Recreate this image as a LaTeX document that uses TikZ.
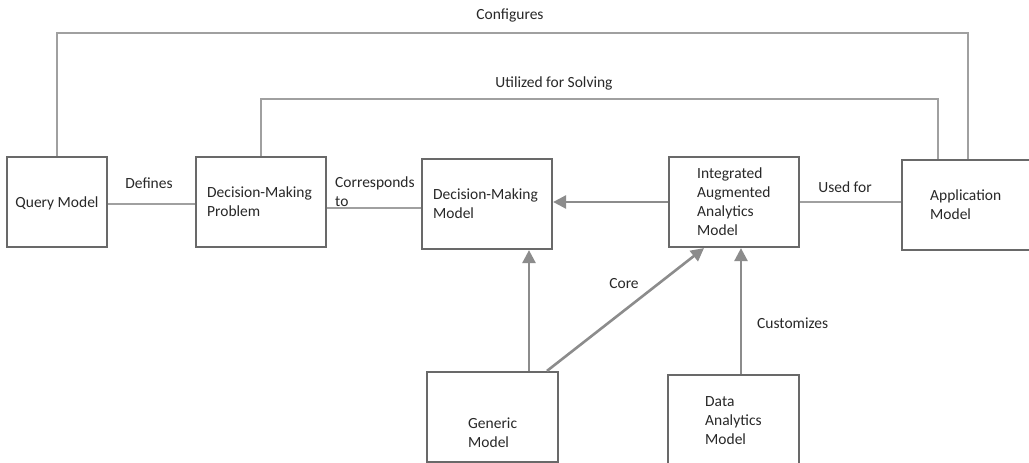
\documentclass[tikz,border=0pt]{standalone}
\usepackage{fontspec}
\setmainfont{Carlito}
\usetikzlibrary{arrows.meta}
\definecolor{boxline}{RGB}{105,105,105}
\definecolor{linkline}{RGB}{160,160,160}
\definecolor{arrline}{RGB}{140,140,140}
\definecolor{txt}{RGB}{40,40,40}
\begin{document}
\begin{tikzpicture}[x=1pt,y=-1pt,
  box/.style={draw=boxline,line width=2.2pt,fill=white,inner sep=0pt,minimum height=90pt},
  txtnode/.style={inner sep=0pt,align=left,text=txt,font=\fontsize{15.5}{19}\selectfont},
  lbl/.style={txtnode},
  link/.style={draw=linkline,line width=1.2pt},
  arr/.style={draw=arrline,line width=2.6pt,-{Triangle[length=13pt,width=13pt]}}]
  \useasboundingbox[fill=white] (0,0) rectangle (1029,463);

  % boxes
  \node[box,minimum width=100pt] (qm)  at (57,202) {};
  \node[box,minimum width=130pt] (dmp) at (261,202) {};
  \node[box,minimum width=130pt] (dmm) at (487,204) {};
  \node[box,minimum width=130pt] (iaa) at (734,202) {};
  \node[box,minimum width=128pt] (am)  at (966,205) {};
  \node[box,minimum width=131pt] (gm)  at (492.5,417) {};
  \node[box,minimum width=131pt] (dam) at (733.5,420) {};

  % box texts
  \node[txtnode] (tqm) at (57,203) {Query Model};
  \node[txtnode,anchor=west] (tdmp) at (207,202) {Decision-Making\\Problem};
  \node[txtnode,anchor=west] (tdmm) at (433,204) {Decision-Making\\Model};
  \node[txtnode,anchor=west] (tiaa) at (697,202) {Integrated\\Augmented\\Analytics\\Model};
  \node[txtnode,anchor=west] (tam) at (930,205) {Application\\Model};
  \node[txtnode,anchor=west] (tgm) at (468,433) {Generic\\Model};
  \node[txtnode,anchor=west] (tdam) at (705,421) {Data\\Analytics\\Model};

  % routing corners
  \coordinate (cfg) at (968,33);
  \coordinate (uts) at (938,99);

  % plain links
  \draw[link] (qm.north) |- (cfg) -- (cfg |- am.north);
  \draw[link] (dmp.north) |- (uts) -- (uts |- am.north);
  \draw[link] ([yshift=-2pt]qm.east) -- ([yshift=-2pt]dmp.west);
  \draw[link] ([yshift=-6pt]dmp.east) -- ([yshift=-4pt]dmm.west);
  \draw[link] (iaa.east) -- (iaa.east -| am.west);

  % arrows
  \draw[arr] (iaa.west) -- (iaa.west -| dmm.east);
  \draw[arr] ([xshift=36.5pt]gm.north) -- ([xshift=36.5pt]gm.north |- dmm.south);
  \draw[arr] ([xshift=54.5pt]gm.north) -- ([xshift=-30pt]iaa.south);
  \draw[arr] ([xshift=7.5pt]dam.north) -- ([xshift=7.5pt]dam.north |- iaa.south);

  % link labels
  \node[lbl] (lcfg) at (510,15) {Configures};
  \node[lbl] (luts) at (554,83) {Utilized for Solving};
  \node[lbl] (ldef) at (149,183) {Defines};
  \node[lbl,anchor=west] (lcor) at (335,192) {Corresponds\\to};
  \node[lbl] (luse) at (845,187) {Used for};
  \node[lbl] (lcore) at (624,284) {Core};
  \node[lbl,anchor=west] (lcus) at (757,323) {Customizes};
\end{tikzpicture}
\end{document}
